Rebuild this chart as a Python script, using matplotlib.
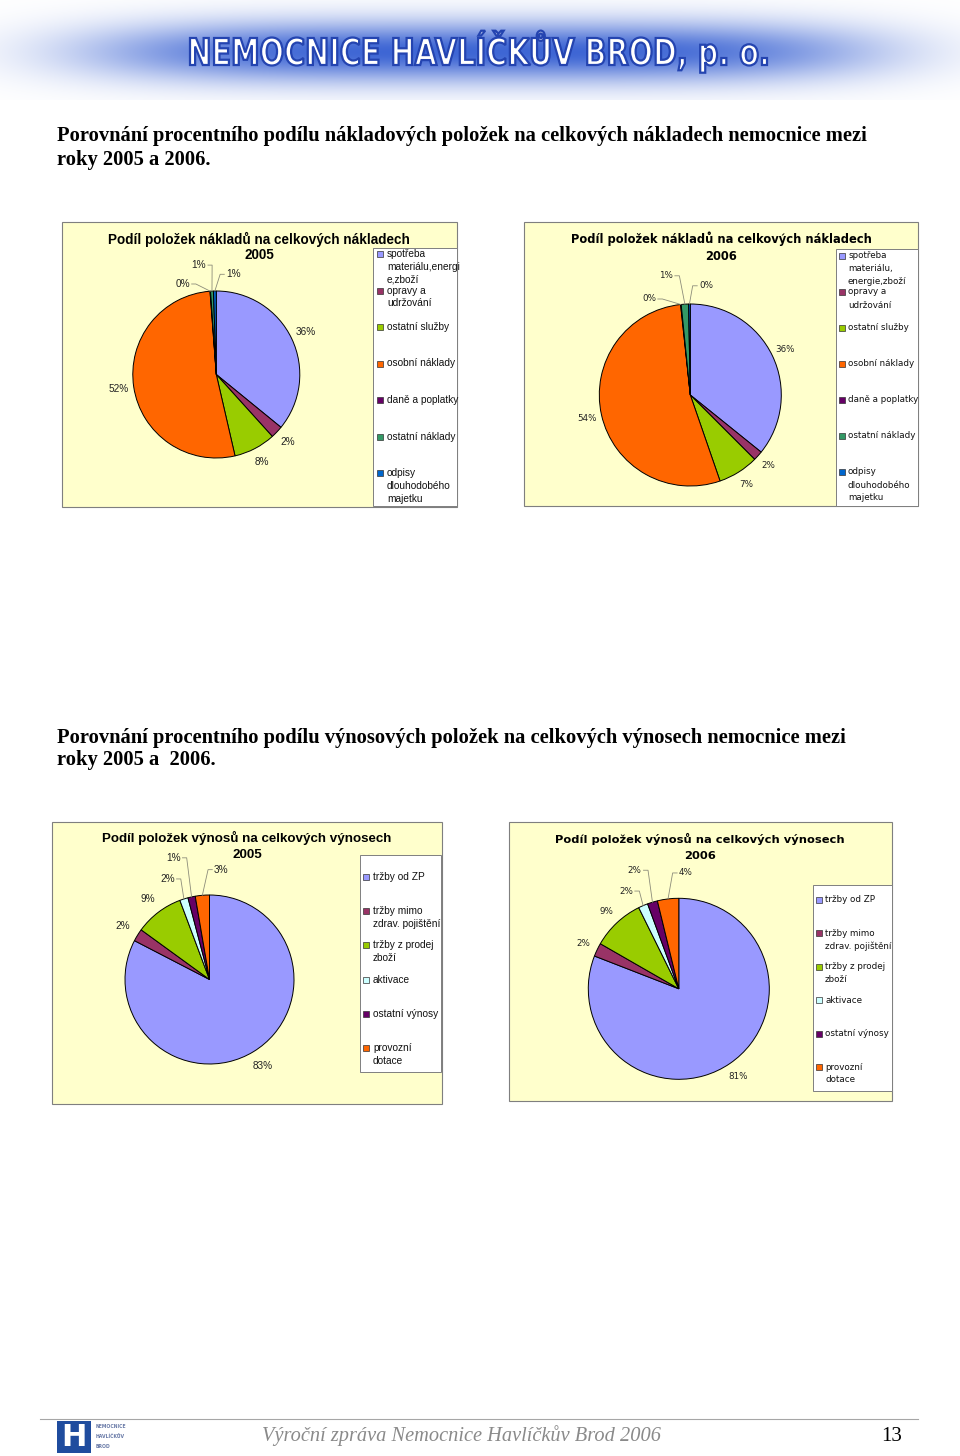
import numpy as np
import matplotlib
matplotlib.use("Agg")
import matplotlib.pyplot as plt
from matplotlib.patches import Rectangle, PathPatch
from matplotlib.textpath import TextPath
from matplotlib.font_manager import FontProperties
from matplotlib.transforms import Affine2D

# ---------------- data ----------------
banner_text = "NEMOCNICE HAVLÍČKŮV BROD, p. o."
heading_costs = ["Porovnání procentního podílu nákladových položek na celkových nákladech nemocnice mezi",
                 "roky 2005 a 2006."]
heading_revenue = ["Porovnání procentního podílu výnosových položek na celkových výnosech nemocnice mezi",
                   "roky 2005 a  2006."]
footer_text = "Výroční zpráva Nemocnice Havlíčkův Brod 2006"
page_number = "13"
logo_lines = ["NEMOCNICE", "HAVLÍČKŮV", "BROD"]

cost_title = "Podíl položek nákladů na celkových nákladech"
revenue_title = "Podíl položek výnosů na celkových výnosech"
years = ["2005", "2006"]

cost_categories_2005 = ["spotřeba\nmateriálu,energi\ne,zboží", "opravy a\nudržování", "ostatní služby",
                        "osobní náklady", "daně a poplatky", "ostatní náklady",
                        "odpisy\ndlouhodobého\nmajetku"]
cost_categories_2006 = ["spotřeba\nmateriálu,\nenergie,zboží", "opravy a\nudržování", "ostatní služby",
                        "osobní náklady", "daně a poplatky", "ostatní náklady",
                        "odpisy\ndlouhodobého\nmajetku"]
cost_share_2005 = [35.9, 2.4, 8.1, 52.4, 0.1, 0.55, 0.55]
cost_share_2006 = [35.8, 1.7, 7.2, 53.6, 0.1, 1.3, 0.3]

revenue_categories = ["tržby od ZP", "tržby mimo\nzdrav. pojištění", "tržby z prodej\nzboží",
                      "aktivace", "ostatní výnosy", "provozní\ndotace"]
revenue_share_2005 = [82.6, 2.4, 9.3, 1.6, 1.4, 2.7]
revenue_share_2006 = [80.9, 2.4, 9.4, 1.7, 1.8, 3.8]

cost_colors = ["#9999FF", "#993366", "#99CC00", "#FF6600", "#660066", "#339966", "#0066CC"]
revenue_colors = ["#9999FF", "#993366", "#99CC00", "#CCFFFF", "#660066", "#FF6600"]

# ---------------- page ----------------
W, H = 960, 1456
fig = plt.figure(figsize=(W / 100, H / 100), dpi=100)
fig.patch.set_facecolor("white")
page = fig.add_axes([0, 0, 1, 1], zorder=0)
page.axis("off")
renderer = fig.canvas.get_renderer()


def fit_width(t, target):
    w = t.get_window_extent(renderer=renderer).width
    t.set_fontsize(t.get_fontsize() * target / w)
    return t.get_fontsize()


# banner glow (decoration)
gy, gx = np.mgrid[0:100, 0:W] + 0.5
glow = np.exp(-((gx - 480) / 390.0) ** 4) * np.exp(-((gy - 52) / 30.0) ** 2)
blue = np.array([62, 102, 212]) / 255.0
img = 1 - glow[..., None] * (1 - blue)
page.imshow(img, extent=(0, W, 100, 0), aspect="auto", interpolation="bilinear", zorder=0)
page.set_xlim(0, W)
page.set_ylim(H, 0)

fp_banner = FontProperties(family="DejaVu Sans", weight="bold")
tp = TextPath((0, 0), banner_text, size=100, prop=fp_banner)
cap_h = TextPath((0, 0), "H", size=100, prop=fp_banner).get_extents().y1
ext = tp.get_extents()
sx = 577.0 / ext.width
sy = 27.0 / cap_h
tr = Affine2D().translate(-ext.x0, 0).scale(sx, -sy).translate(190, 65)
page.add_patch(PathPatch(tr.transform_path(tp), facecolor="white", edgecolor="#2444B0",
                         lw=1.6, zorder=3))

# headings
for lines, y0, target in [(heading_costs, 141.5, 809), (heading_revenue, 742.5, 788)]:
    t1 = page.text(57, y0, lines[0], fontfamily="Liberation Serif", fontweight="bold",
                   fontsize=14, ha="left", va="baseline", color="black")
    fs = fit_width(t1, target)
    page.text(57, y0 + 23, lines[1], fontfamily="Liberation Serif", fontweight="bold",
              fontsize=fs, ha="left", va="baseline", color="black")

# ---------------- charts ----------------
charts = [
    dict(values=cost_share_2005, cats=cost_categories_2005, colors=cost_colors, title=cost_title,
         year=years[0], box=(62, 222, 457, 507), center=(216.3, 374.5), r=83.5,
         legend=(373, 248, 457, 506), leg_y0=254, pitch=36.5, sq_dx=4, txt_dx=14,
         title_cx=259, title_y=(239, 255), title_w=301, family="Liberation Sans",
         pct_size=7.2, leg_size=7.3, labeldist=1.18,
         leaders={4: (-0.315, 1.084, "right"), 5: (-0.12, 1.31, "right"), 6: (0.116, 1.20, "left")}),
    dict(values=cost_share_2006, cats=cost_categories_2006, colors=cost_colors, title=cost_title,
         year=years[1], box=(524, 222, 918, 506), center=(690.3, 395.0), r=91.0,
         legend=(836, 249, 918, 506), leg_y0=256, pitch=36.0, sq_dx=3, txt_dx=12,
         title_cx=721, title_y=(239, 256), title_w=299, family="DejaVu Sans",
         pct_size=6.3, leg_size=6.3, labeldist=1.16,
         leaders={4: (-0.377, 1.055, "right"), 5: (-0.19, 1.31, "right"), 6: (0.096, 1.20, "left")}),
    dict(values=revenue_share_2005, cats=revenue_categories, colors=revenue_colors, title=revenue_title,
         year=years[0], box=(52, 822, 442, 1104), center=(209.5, 979.5), r=84.5,
         legend=(360, 855, 441, 1072), leg_y0=877, pitch=34.2, sq_dx=3, txt_dx=13,
         title_cx=247, title_y=(838, 855), title_w=292, family="Liberation Sans",
         pct_size=7.2, leg_size=7.3, labeldist=1.2,
         leaders={3: (-0.41, 1.19, "right"), 4: (-0.34, 1.44, "right"), 5: (0.053, 1.30, "left")}),
    dict(values=revenue_share_2006, cats=revenue_categories, colors=revenue_colors, title=revenue_title,
         year=years[1], box=(509, 822, 892, 1101), center=(678.8, 988.8), r=90.5,
         legend=(813, 885, 892, 1091), leg_y0=900, pitch=33.4, sq_dx=3, txt_dx=12,
         title_cx=700, title_y=(839, 856), title_w=286, family="DejaVu Sans",
         pct_size=6.3, leg_size=6.3, labeldist=1.17,
         leaders={3: (-0.506, 1.08, "right"), 4: (-0.41, 1.31, "right"), 5: (0.002, 1.28, "left")}),
]

K = 1.7  # pie axes half-size in radius units
for c in charts:
    x0, y0, x1, y1 = c["box"]
    page.add_patch(Rectangle((x0, y0), x1 - x0, y1 - y0, facecolor="#FFFFCC",
                             edgecolor="#7F7F7F", lw=0.8, zorder=1))
    # title
    t = page.text(c["title_cx"], c["title_y"][0], c["title"], fontfamily=c["family"],
                  fontweight="bold", fontsize=9, ha="center", va="center", zorder=4)
    fs = fit_width(t, c["title_w"])
    page.text(c["title_cx"], c["title_y"][1], c["year"], fontfamily=c["family"],
              fontweight="bold", fontsize=fs, ha="center", va="center", zorder=4)

    # legend
    lx0, ly0, lx1, ly1 = c["legend"]
    leg = Rectangle((lx0, ly0), lx1 - lx0, ly1 - ly0, facecolor="white",
                    edgecolor="#7F7F7F", lw=0.7, zorder=2)
    page.add_patch(leg)
    for i, (cat, col) in enumerate(zip(c["cats"], c["colors"])):
        yy = c["leg_y0"] + i * c["pitch"]
        page.add_patch(Rectangle((lx0 + c["sq_dx"], yy - 3), 6, 6, facecolor=col,
                                 edgecolor="#333333", lw=0.5, zorder=3))
        for j, line in enumerate(cat.split("\n")):
            tt = page.text(lx0 + c["txt_dx"], yy + j * 13, line, fontfamily=c["family"],
                           fontsize=c["leg_size"], ha="left", va="center", color="#111111", zorder=4)
            tt.set_clip_path(leg)

    # pie
    cx, cy = c["center"]
    r = c["r"]
    ax = fig.add_axes([(cx - r * K) / W, 1 - (cy + r * K) / H, 2 * r * K / W, 2 * r * K / H], zorder=1)
    ax.patch.set_alpha(0)
    vals = np.array(c["values"], dtype=float)
    pct = vals / vals.sum() * 100
    wedges, _ = ax.pie(vals, colors=c["colors"], startangle=90, counterclock=False,
                       wedgeprops=dict(edgecolor="black", linewidth=0.7))
    ax.set_xlim(-K, K)
    ax.set_ylim(-K, K)
    ax.axis("off")
    for i, (w, p) in enumerate(zip(wedges, pct)):
        lab = f"{p:.0f}%"
        th = np.deg2rad((w.theta1 + w.theta2) / 2)
        ex, ey = np.cos(th), np.sin(th)
        if i in c["leaders"]:
            lx, ly, ha = c["leaders"][i]
            s = 1 if ha == "right" else -1
            ax.text(lx, ly, lab, ha=ha, va="center", fontfamily=c["family"],
                    fontsize=c["pct_size"], color="#222222", clip_on=False)
            ax.plot([lx + s * 0.02, lx + s * 0.07, ex], [ly, ly, ey], color="#8C8C7A",
                    lw=0.6, clip_on=False)
        else:
            d = c["labeldist"]
            ax.text(d * ex, d * ey, lab, ha="center", va="center", fontfamily=c["family"],
                    fontsize=c["pct_size"], color="#222222", clip_on=False)

# ---------------- footer ----------------
page.plot([40, 918], [1419, 1419], color="#A6A6A6", lw=0.8, zorder=2)
page.add_patch(Rectangle((57, 1421), 34, 32, facecolor="#1F4C9E", edgecolor="none", zorder=2))
page.text(74, 1438, "H", fontfamily="DejaVu Sans", fontweight="bold", fontsize=22,
          color="white", ha="center", va="center", zorder=3)
for j, line in enumerate(logo_lines):
    page.text(96, 1427 + j * 9.5, line, fontfamily="DejaVu Sans", fontweight="bold",
              fontsize=3.3, color="#6A7BA8", ha="left", va="center", zorder=3)
ft = page.text(262, 1441, footer_text, fontfamily="Liberation Serif", fontstyle="italic",
               fontsize=15, color="#8A8A8A", ha="left", va="baseline")
fit_width(ft, 401)
page.text(902, 1441, page_number, fontfamily="Liberation Serif", fontsize=15,
          color="black", ha="right", va="baseline")

fig.savefig("out.png", dpi=100, facecolor="white")
